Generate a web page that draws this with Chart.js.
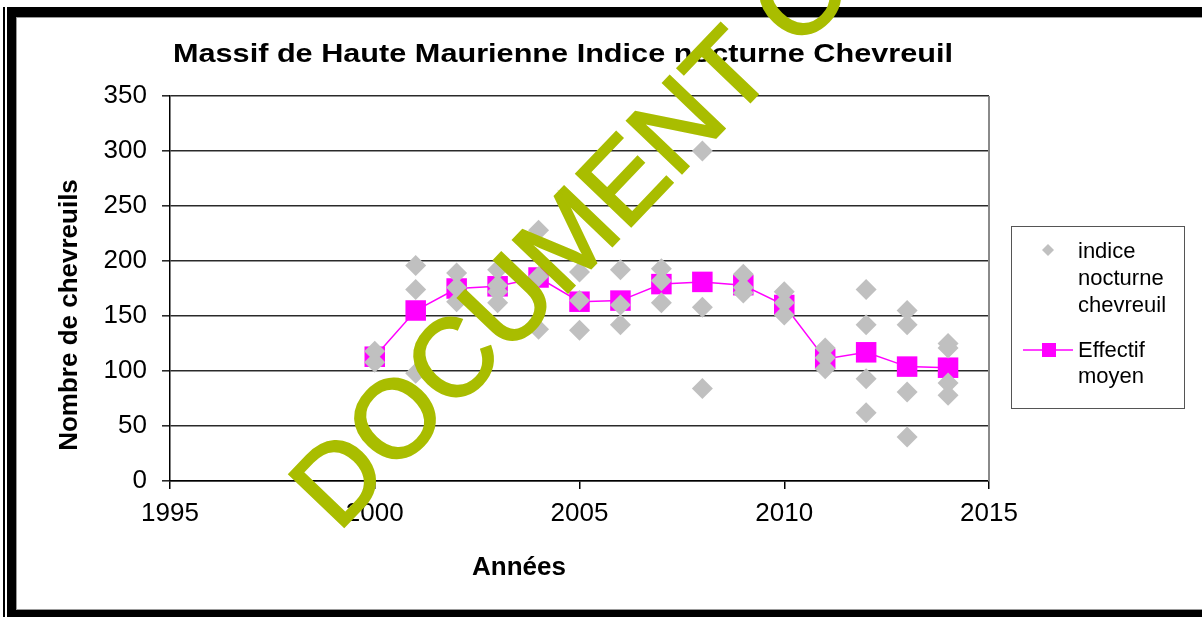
<!DOCTYPE html>
<html>
<head>
<meta charset="utf-8">
<title>Massif de Haute Maurienne Indice nocturne Chevreuil</title>
<script src="https://cdn.jsdelivr.net/npm/chart.js@4/dist/chart.umd.min.js"></script>
<style>
  html, body { margin: 0; padding: 0; background: #fff; overflow: hidden; }
  #chevreuilChart { display: block; }
</style>
</head>
<body>
<canvas id="chevreuilChart" width="1202" height="617"></canvas>
<script>
// ---- data ----
const chartTitle = 'Massif de Haute Maurienne Indice nocturne Chevreuil';
const xTitle = 'Années';
const yTitle = 'Nombre de chevreuils';

// each survey point (indice nocturne) : year + value, in parallel lists
const indiceYears = [2000, 2000,
    2001, 2001, 2001,
    2002, 2002, 2002,
    2003, 2003, 2003, 2003,
    2004, 2004, 2004,
    2005, 2005, 2005,
    2006, 2006, 2006,
    2007, 2007, 2007,
    2008, 2008, 2008,
    2009, 2009, 2009,
    2010, 2010, 2010,
    2011, 2011, 2011,
    2012, 2012, 2012, 2012,
    2013, 2013, 2013, 2013,
    2014, 2014, 2014, 2014];
const indiceValues = [118, 108,
    196, 174, 98,
    189, 176, 163,
    192, 178, 172, 162,
    228, 186, 138,
    190, 164, 137,
    192, 160, 142,
    193, 182, 162,
    300, 158, 84,
    188, 176, 171,
    172, 162, 151,
    121, 112, 102,
    174, 142, 93, 62,
    155, 142, 81, 40,
    125, 121, 89, 78];

// effectif moyen per year
const moyenYears = [2000, 2001, 2002, 2003, 2004, 2005, 2006, 2007, 2008, 2009, 2010, 2011, 2012, 2013, 2014];
const moyenValues = [113, 155, 175, 177, 185, 163, 164, 179, 181, 178, 160, 111, 117, 104, 103];

const xTicks = [1995, 2000, 2005, 2010, 2015];
const yTicks = [0, 50, 100, 150, 200, 250, 300, 350];

const legendLabels = [['indice', 'nocturne', 'chevreuil'], ['Effectif', 'moyen']];
const watermarkText = 'DOCUMENT O';

const FONT = '"Liberation Sans", Arial, sans-serif';
Chart.defaults.font.family = FONT;
Chart.defaults.color = '#000';

// draws frame, titles, the legend box and the watermark
const decorPlugin = {
    id: 'decor',
    beforeDraw(chart) {
        const ctx = chart.ctx;
        ctx.save();
        ctx.fillStyle = '#fff';
        ctx.fillRect(0, 0, chart.width, chart.height);
        // outer frame
        ctx.fillStyle = '#000';
        ctx.fillRect(3, 7, 2, 610);
        ctx.fillRect(7, 7, 9, 610);
        ctx.fillRect(7, 7, 1195, 10);
        ctx.fillRect(7, 610, 1195, 7);
        ctx.fillStyle = '#999';
        ctx.fillRect(16, 17, 1186, 1);
        ctx.fillRect(16, 17, 1, 593);
        ctx.fillRect(16, 609, 1186, 1);
        ctx.restore();
    },
    beforeDatasetsDraw(chart) {
        const ctx = chart.ctx;
        const a = chart.chartArea;
        ctx.save();
        ctx.strokeStyle = '#8a8a8a';
        ctx.lineWidth = 2;
        ctx.beginPath();
        ctx.moveTo(a.right, a.top);
        ctx.lineTo(a.right, a.bottom);
        ctx.stroke();
        ctx.restore();
    },
    afterDraw(chart) {
        const ctx = chart.ctx;
        ctx.save();
        ctx.fillStyle = '#000';

        // chart title, stretched to the width it has in the original
        ctx.font = 'bold 26px ' + FONT;
        ctx.textBaseline = 'alphabetic';
        ctx.textAlign = 'left';
        let w = ctx.measureText(chartTitle).width;
        ctx.save();
        ctx.translate(173, 62);
        ctx.scale(780 / w, 1);
        ctx.fillText(chartTitle, 0, 0);
        ctx.restore();

        // axis titles
        ctx.font = 'bold 26px ' + FONT;
        ctx.textAlign = 'center';
        ctx.fillText(xTitle, 519, 575);
        ctx.save();
        ctx.translate(77, 315);
        ctx.rotate(-Math.PI / 2);
        ctx.fillText(yTitle, 0, 0);
        ctx.restore();

        // legend box
        ctx.strokeStyle = '#555';
        ctx.lineWidth = 1;
        ctx.strokeRect(1011.5, 226.5, 173, 182);
        // diamond
        ctx.fillStyle = '#c0c0c0';
        ctx.beginPath();
        ctx.moveTo(1048, 244);
        ctx.lineTo(1054, 250);
        ctx.lineTo(1048, 256);
        ctx.lineTo(1042, 250);
        ctx.closePath();
        ctx.fill();
        // line + square
        ctx.strokeStyle = '#ff00ff';
        ctx.lineWidth = 1.5;
        ctx.beginPath();
        ctx.moveTo(1023, 350);
        ctx.lineTo(1073, 350);
        ctx.stroke();
        ctx.fillStyle = '#ff00ff';
        ctx.fillRect(1042, 343, 14, 14);

        ctx.fillStyle = '#000';
        ctx.font = '22px ' + FONT;
        ctx.textAlign = 'left';
        const lineY = [[258, 285, 312], [357, 383]];
        legendLabels.forEach((lines, i) => {
            lines.forEach((t, j) => ctx.fillText(t, 1078, lineY[i][j]));
        });

        // watermark
        ctx.save();
        ctx.translate(338, 533);
        ctx.rotate(-46.3 * Math.PI / 180);
        ctx.font = '110px ' + FONT;
        ctx.fillStyle = '#a9bd00';
        ctx.strokeStyle = '#a9bd00';
        ctx.lineWidth = 2.5;
        ctx.textAlign = 'left';
        ctx.fillText(watermarkText, 0, 0);
        ctx.strokeText(watermarkText, 0, 0);
        ctx.restore();

        ctx.restore();
    }
};

const indicePoints = indiceYears.map((x, i) => ({ x: x, y: indiceValues[i] }));
const moyenPoints = moyenYears.map((x, i) => ({ x: x, y: moyenValues[i] }));

const config = {
    type: 'scatter',
    data: {
        datasets: [{
            label: legendLabels[0].join(' '),
            data: indicePoints,
            pointStyle: 'rectRot',
            pointRadius: 10.5,
            pointHoverRadius: 10.5,
            backgroundColor: '#c0c0c0',
            borderColor: '#c0c0c0',
            pointBorderWidth: 0
        }, {
            type: 'line',
            label: legendLabels[1].join(' '),
            data: moyenPoints,
            borderColor: '#ff00ff',
            borderWidth: 1.5,
            backgroundColor: '#ff00ff',
            pointStyle: 'rect',
            pointRadius: 14.5,
            pointHoverRadius: 14.5,
            pointBackgroundColor: '#ff00ff',
            pointBorderWidth: 0,
            tension: 0,
            fill: false
        }]
    },
    options: {
        responsive: false,
        animation: false,
        devicePixelRatio: 1,
        layout: { padding: { left: 0, top: 96, right: 213, bottom: 0 } },
        plugins: {
            legend: { display: false },
            title: { display: false },
            tooltip: { enabled: false }
        },
        scales: {
            x: {
                type: 'linear',
                min: xTicks[0],
                max: xTicks[xTicks.length - 1],
                afterBuildTicks: s => { s.ticks = xTicks.map(v => ({ value: v })); },
                afterFit: s => { s.height = 136; },
                ticks: {
                    font: { size: 26 },
                    color: '#000',
                    padding: 9,
                    maxRotation: 0,
                    callback: v => String(v)
                },
                grid: {
                    drawOnChartArea: false,
                    drawTicks: true,
                    tickLength: 8,
                    color: '#000',
                    lineWidth: 1.5
                },
                border: { display: true, color: '#000', width: 1.5 }
            },
            y: {
                min: yTicks[0],
                max: yTicks[yTicks.length - 1],
                afterBuildTicks: s => { s.ticks = yTicks.map(v => ({ value: v })); },
                afterFit: s => { s.width = 170; },
                ticks: {
                    font: { size: 26 },
                    color: '#000',
                    padding: 15,
                    callback: v => String(v)
                },
                grid: {
                    color: '#2a2a2a',
                    lineWidth: 1.6,
                    tickLength: 8
                },
                border: { display: true, color: '#000', width: 1.5 }
            }
        }
    },
    plugins: [decorPlugin]
};

const chevreuilChart = new Chart(document.getElementById('chevreuilChart'), config);
</script>
</body>
</html>
